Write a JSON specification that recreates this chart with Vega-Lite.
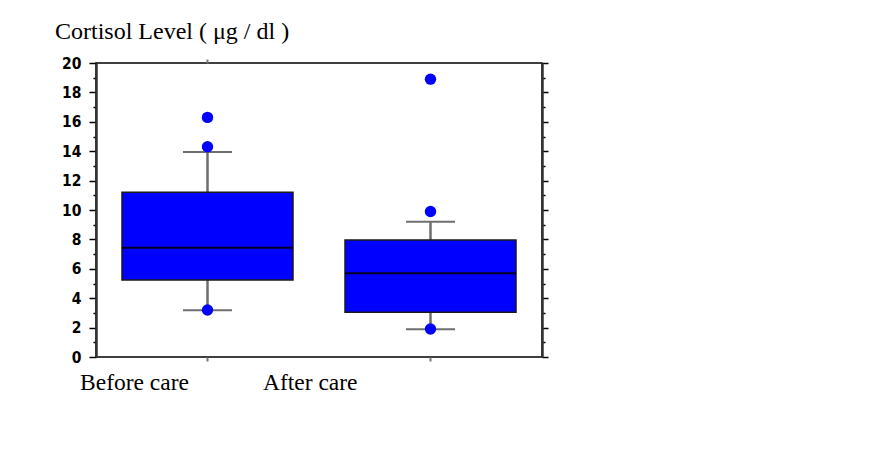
{
  "$schema": "https://vega.github.io/schema/vega-lite/v6.json",
  "width": 446,
  "height": 294,
  "autosize": {"type": "none"},
  "padding": {"left": 96, "top": 63, "right": 346, "bottom": 93},
  "background": "white",
  "title": {
    "text": "Cortisol Level ( μg / dl )",
    "anchor": "start",
    "frame": "group",
    "dx": -41,
    "offset": -7,
    "font": "Liberation Serif",
    "fontSize": 24,
    "fontWeight": "normal",
    "color": "black",
    "baseline": "alphabetic"
  },
  "config": {
    "view": {"stroke": "black", "strokeWidth": 1.5},
    "axis": {"grid": false, "title": null}
  },
  "datasets": {
    "summary": [
      {"group": "Before care", "lo": 3.18, "q1": 5.24, "med": 7.44, "q3": 11.2, "hi": 13.95},
      {"group": "After care", "lo": 1.88, "q1": 3.04, "med": 5.69, "q3": 7.96, "hi": 9.2}
    ],
    "outliers": [
      {"group": "Before care", "value": 16.3},
      {"group": "Before care", "value": 14.3},
      {"group": "Before care", "value": 3.2},
      {"group": "After care", "value": 18.9},
      {"group": "After care", "value": 9.9},
      {"group": "After care", "value": 1.9}
    ]
  },
  "resolve": {"axis": {"x": "independent", "y": "independent"}},
  "layer": [
    {
      "data": {"name": "summary"},
      "mark": {"type": "rule", "color": "#6e6e6e", "strokeWidth": 2.5},
      "encoding": {
        "x": {
          "field": "group", "type": "nominal", "sort": ["Before care", "After care"],
          "scale": {"type": "band", "paddingInner": 0, "paddingOuter": 0},
          "axis": {
            "orient": "bottom", "domain": false, "tickSize": 4, "tickColor": "#777777", "tickWidth": 2,
            "labelFont": "Liberation Serif", "labelFontSize": 23.5, "labelColor": "black",
            "labelBaseline": "alphabetic", "labelPadding": 28, "labelAngle": 0,
            "labelLimit": 0, "labelOverlap": false, "labelBound": false,
            "labelOffset": -73,
            "labelAlign": {"condition": {"test": "datum.value === 'Before care'", "value": "center"}, "value": "right"}
          }
        },
        "y": {
          "field": "lo", "type": "quantitative",
          "scale": {"domain": [0, 20], "nice": false},
          "axis": {
            "orient": "left",
            "values": [0,1,2,3,4,5,6,7,8,9,10,11,12,13,14,15,16,17,18,19,20],
            "labelExpr": "datum.value % 2 === 0 ? datum.label : ''",
            "labelFont": "DejaVu Sans Condensed, DejaVu Sans",
            "labelFontWeight": "bold", "labelFontSize": 15.5, "labelColor": "black",
            "labelPadding": 8,
            "tickSize": {"condition": {"test": "datum.value % 2 === 0", "value": 7}, "value": 3},
            "tickColor": "black", "tickWidth": 1.5,
            "domainColor": "#333333", "domainWidth": 2.5
          }
        },
        "y2": {"field": "q1"}
      }
    },
    {
      "data": {"name": "summary"},
      "mark": {"type": "rule", "color": "#6e6e6e", "strokeWidth": 2.5},
      "encoding": {
        "x": {
          "field": "group", "type": "nominal", "sort": ["Before care", "After care"],
          "axis": {"orient": "top", "values": ["Before care"], "labels": false, "domain": false, "tickSize": 4, "tickColor": "#777777", "tickWidth": 2}
        },
        "y": {
          "field": "q3", "type": "quantitative",
          "axis": {
            "orient": "right",
            "values": [0,1,2,3,4,5,6,7,8,9,10,11,12,13,14,15,16,17,18,19,20],
            "labels": false,
            "tickSize": {"condition": {"test": "datum.value % 2 === 0", "value": 6}, "value": 3},
            "tickColor": "black", "tickWidth": 1.5,
            "domainColor": "#333333", "domainWidth": 2.5
          }
        },
        "y2": {"field": "hi"}
      }
    },
    {
      "data": {"name": "summary"},
      "mark": {"type": "bar", "size": 171, "color": "#0000ff", "stroke": "#1a1a1a", "strokeWidth": 1.5},
      "encoding": {
        "x": {"field": "group", "type": "nominal", "sort": ["Before care", "After care"], "axis": null},
        "y": {"field": "q1", "type": "quantitative", "axis": null},
        "y2": {"field": "q3"}
      }
    },
    {
      "data": {"name": "summary"},
      "mark": {"type": "tick", "size": 171, "thickness": 2, "color": "#000022", "opacity": 1},
      "encoding": {
        "x": {"field": "group", "type": "nominal", "sort": ["Before care", "After care"], "axis": null},
        "y": {"field": "med", "type": "quantitative", "axis": null}
      }
    },
    {
      "data": {"name": "summary"},
      "mark": {"type": "tick", "size": 49, "thickness": 2, "color": "#6e6e6e", "opacity": 1},
      "encoding": {
        "x": {"field": "group", "type": "nominal", "sort": ["Before care", "After care"], "axis": null},
        "y": {"field": "lo", "type": "quantitative", "axis": null}
      }
    },
    {
      "data": {"name": "summary"},
      "mark": {"type": "tick", "size": 49, "thickness": 2, "color": "#6e6e6e", "opacity": 1},
      "encoding": {
        "x": {"field": "group", "type": "nominal", "sort": ["Before care", "After care"], "axis": null},
        "y": {"field": "hi", "type": "quantitative", "axis": null}
      }
    },
    {
      "data": {"name": "outliers"},
      "mark": {"type": "point", "filled": true, "size": 130, "color": "#0000ff", "opacity": 1},
      "encoding": {
        "x": {"field": "group", "type": "nominal", "sort": ["Before care", "After care"], "axis": null},
        "y": {"field": "value", "type": "quantitative", "axis": null}
      }
    }
  ]
}
